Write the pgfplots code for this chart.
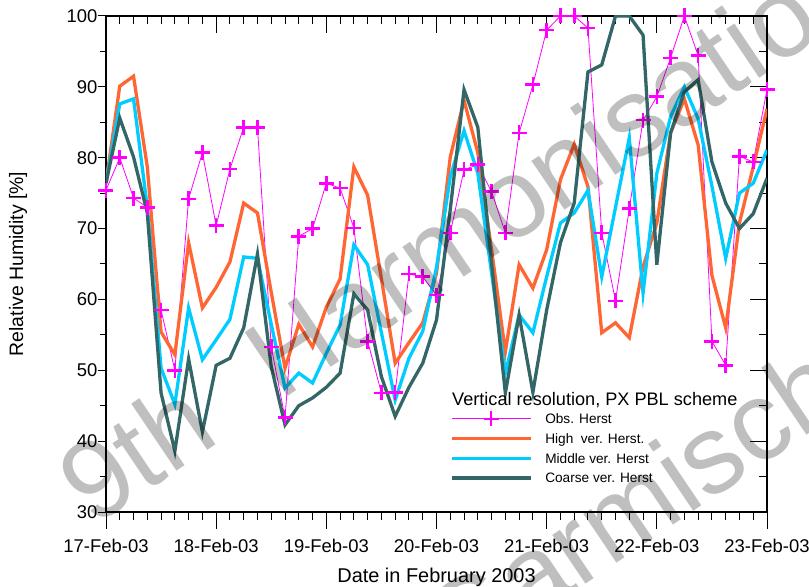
\documentclass[border=0pt]{standalone}
\usepackage{fontspec}
\setmainfont{Liberation Sans}
\usepackage{pgfplots}
\pgfplotsset{compat=1.18}
\usepackage{pgfplotstable}
\definecolor{obscol}{HTML}{FF00FF}
\definecolor{highcol}{HTML}{FF6633}
\definecolor{midcol}{HTML}{00CCFF}
\definecolor{coarsecol}{HTML}{336666}

\pgfplotstableread{
i obs high mid coarse
0 75.4 76.5 76.4 76.4
1 80.0 90.1 87.6 85.6
2 74.3 91.5 88.3 80.1
3 73.0 78.7 73.0 72.2
4 58.5 55.4 50.3 46.8
5 50.0 52.2 45.2 38.6
6 74.2 68.0 58.8 51.6
7 80.7 58.8 51.5 41.3
8 70.4 61.7 54.3 50.7
9 78.4 65.3 57.2 51.7
10 84.3 73.6 66.0 56.0
11 84.3 72.2 65.8 66.4
12 53.3 61.0 56.5 50.5
13 43.3 50.3 47.5 42.3
14 68.9 56.5 49.6 45.0
15 70.0 53.3 48.2 46.1
16 76.4 58.9 52.4 47.6
17 75.7 62.9 56.4 49.6
18 70.1 78.7 67.7 60.8
19 54.1 74.7 64.9 58.5
20 46.8 62.9 55.3 49.1
21 46.9 51.0 45.8 43.5
22 63.6 53.9 51.7 47.6
23 63.2 56.7 55.5 51.0
24 60.6 63.7 64.5 57.1
25 69.4 80.1 77.3 72.7
26 78.3 88.1 83.8 89.6
27 79.0 80.7 77.8 84.3
28 75.2 67.0 63.7 65.1
29 69.4 52.6 49.6 46.8
30 83.5 64.9 57.8 57.8
31 90.3 61.6 55.3 46.9
32 98.0 67.0 63.2 58.5
33 100.0 76.9 70.8 68.0
34 100.0 81.9 72.2 73.6
35 98.3 75.9 75.4 92.1
36 69.4 55.3 63.2 93.1
37 59.8 56.7 73.0 100.0
38 72.8 54.6 82.8 100.0
39 85.3 64.6 60.9 97.3
40 88.6 70.8 77.8 64.9
41 94.1 83.5 85.8 83.5
42 100.0 88.3 90.0 89.3
43 94.4 81.8 85.5 91.0
44 54.1 63.4 76.0 79.4
45 50.7 56.0 65.8 73.6
46 80.2 70.8 75.0 70.0
47 79.4 78.7 76.4 72.1
48 89.6 86.9 81.1 77.1
}\datatable

\begin{document}
\begin{tikzpicture}
\pgfplotsset{
  base/.style={width=661bp,height=496bp,scale only axis,
    xmin=0,xmax=48,ymin=30,ymax=100,
    axis line style={line width=1.2bp,black},
    every tick/.style={black,line width=1bp}},
}
% bottom ticks (outside)
\begin{axis}[base,xtick={0,8,...,48},minor xtick={0,1,...,48},
  xtick pos=bottom,ytick=\empty,xticklabels={},tick align=outside,
  major tick length=17bp,minor tick length=8bp]
\end{axis}
% left ticks (outside)
\begin{axis}[base,ytick={30,40,...,100},minor ytick={35,45,...,95},
  ytick pos=left,xtick=\empty,yticklabels={},tick align=outside,
  major tick length=8bp,minor tick length=6bp]
\end{axis}
% top and right ticks (inside)
\begin{axis}[base,xtick={0,8,...,48},minor xtick={0,1,...,48},
  ytick={30,40,...,100},minor ytick={35,45,...,95},
  xtick pos=top,ytick pos=right,xticklabels={},yticklabels={},
  tick align=inside,major tick length=17bp,minor tick length=8bp]
\end{axis}
% main axis with data
\begin{axis}[base,
  /pgf/number format/assume math mode=true,
  xtick={0,8,...,48},
  xticklabels={17-Feb-03,18-Feb-03,19-Feb-03,20-Feb-03,21-Feb-03,22-Feb-03,23-Feb-03},
  ytick={30,40,...,100},
  major tick length=0pt,minor tick length=0pt,
  xtick pos=bottom,ytick pos=left,
  xticklabel style={font=\fontsize{18.5}{20}\selectfont,yshift=-24bp},
  yticklabel style={font=\fontsize{18.5}{20}\selectfont,xshift=-5bp},
  xlabel={Date in February 2003},
  ylabel={Relative Humidity [\%]},
  xlabel style={font=\fontsize{20}{22}\selectfont,at={(axis description cs:0.5,-0.131)},anchor=center},
  ylabel style={font=\fontsize{19.5}{22}\selectfont,at={(axis description cs:-0.1331,0.5)},anchor=center},
  legend style={at={(rel axis cs:0.5204,0.2077)},anchor=north west,
    draw=none,fill=none,inner sep=0pt,outer sep=0pt,
    font=\fontsize{13.7}{15}\selectfont,
    row sep=0pt,column sep=13bp,
    nodes={inner sep=0pt,text height=14.85bp,text depth=4.85bp}},
  legend cell align=left,
  legend image code/.code={\draw[mark repeat=2,mark phase=2,#1] plot coordinates {(0bp,0bp) (39.5bp,0bp) (79bp,0bp)};},
]
\addplot[obscol,line width=0.8bp,mark=+,mark size=7.5bp,mark options={line width=2.6bp}] table[x=i,y=obs]{\datatable};
\addlegendentry{Obs. Herst}
\addplot[highcol,line width=3.3bp] table[x=i,y=high]{\datatable};
\addlegendentry{High\ \ ver. Herst.}
\addplot[midcol,line width=3.3bp] table[x=i,y=mid]{\datatable};
\addlegendentry{Middle ver. Herst}
\addplot[coarsecol,line width=3.3bp] table[x=i,y=coarse]{\datatable};
\addlegendentry{Coarse ver. Herst}
\node[anchor=west,inner sep=0pt,font=\fontsize{18.2}{20}\selectfont] at (rel axis cs:0.5234,0.2258) {Vertical resolution, PX PBL scheme};
\end{axis}
% watermark
\node[anchor=base west,rotate=34,inner sep=0pt,text=black,text opacity=0.25,font=\fontsize{112}{120}\selectfont] at (-13bp,-16bp) {9th\hspace{40bp} Harmonisation};
\node[anchor=base west,rotate=34,inner sep=0pt,text=black,text opacity=0.25,font=\fontsize{112}{120}\selectfont] at (350bp,-160bp) {Garmisch};
\pgfresetboundingbox
\path[use as bounding box] (-106bp,-75bp) rectangle (703bp,496bp+16bp);
\end{tikzpicture}
\end{document}
